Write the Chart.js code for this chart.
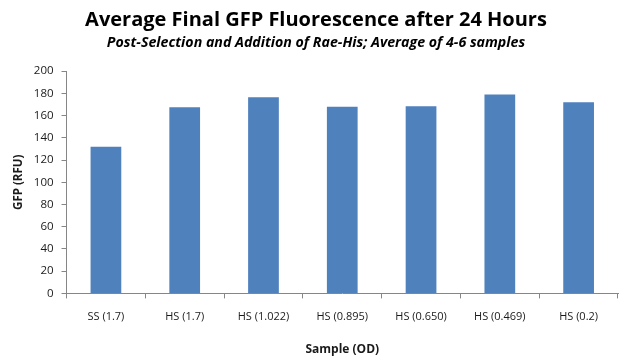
<!DOCTYPE html>
<html>
<head>
<meta charset="utf-8">
<script src="https://cdn.jsdelivr.net/npm/chart.js@4/dist/chart.umd.min.js"></script>
<style>
html,body{margin:0;padding:0;background:#fff;}
#wrap{width:628px;height:357px;position:relative;}
</style>
</head>
<body>
<div id="wrap"><canvas id="c" width="628" height="357"></canvas></div>
<script>
const categories = ["SS (1.7)", "HS (1.7)", "HS (1.022)", "HS (0.895)", "HS (0.650)", "HS (0.469)", "HS (0.2)"];
const gfpValues = [132, 167.5, 176.5, 168, 168.5, 179, 172];
const yTicks = [0, 20, 40, 60, 80, 100, 120, 140, 160, 180, 200];

const FONT = "'Open Sans', Lato, sans-serif";
const axisColor = "#868686";
const textColor = "#1a1a1a";

new Chart(document.getElementById("c"), {
  type: "bar",
  data: {
    labels: categories,
    datasets: [{
      data: gfpValues,
      backgroundColor: "#4F81BD",
      borderWidth: 0,
      barPercentage: 0.39,
      categoryPercentage: 1.0
    }]
  },
  options: {
    responsive: false,
    animation: false,
    devicePixelRatio: 1,
    layout: { padding: { left: 14, right: 10, top: 0, bottom: 0 } },
    plugins: {
      legend: { display: false },
      tooltip: { enabled: false },
      title: {
        display: true,
        text: "Average Final GFP Fluorescence after 24 Hours",
        color: "#000",
        font: { family: FONT, size: 20, weight: "bold", lineHeight: 1.0 },
        padding: { top: 10, bottom: 6 }
      },
      subtitle: {
        display: true,
        text: "Post-Selection and Addition of Rae-His; Average of 4-6 samples",
        color: "#000",
        font: { family: FONT, size: 14.2, weight: "bold", style: "italic", lineHeight: 1.0 },
        padding: { top: 0, bottom: 21 }
      }
    },
    scales: {
      x: {
        offset: true,
        grid: { display: true, drawOnChartArea: false, offset: true, tickLength: 5, color: axisColor, lineWidth: 1 },
        border: { display: true, color: axisColor, width: 1 },
        ticks: { color: textColor, font: { family: FONT, size: 11 }, padding: 12, maxRotation: 0, autoSkip: false },
        title: { display: true, text: "Sample (OD)", color: textColor, font: { family: FONT, size: 12, weight: "bold" }, padding: { top: 7, bottom: 0 } }
      },
      y: {
        min: 0,
        max: 200,
        afterBuildTicks: (axis) => { axis.ticks = yTicks.map(v => ({ value: v })); },
        grid: { display: true, drawOnChartArea: false, tickLength: 5, color: axisColor, lineWidth: 1 },
        border: { display: true, color: axisColor, width: 1 },
        ticks: { color: textColor, font: { family: FONT, size: 11.5 }, padding: 8 },
        title: { display: true, text: "GFP (RFU)", color: textColor, font: { family: FONT, size: 11.5, weight: "bold" }, padding: { top: -2, bottom: 0 } }
      }
    }
  }
});
</script>
</body>
</html>
